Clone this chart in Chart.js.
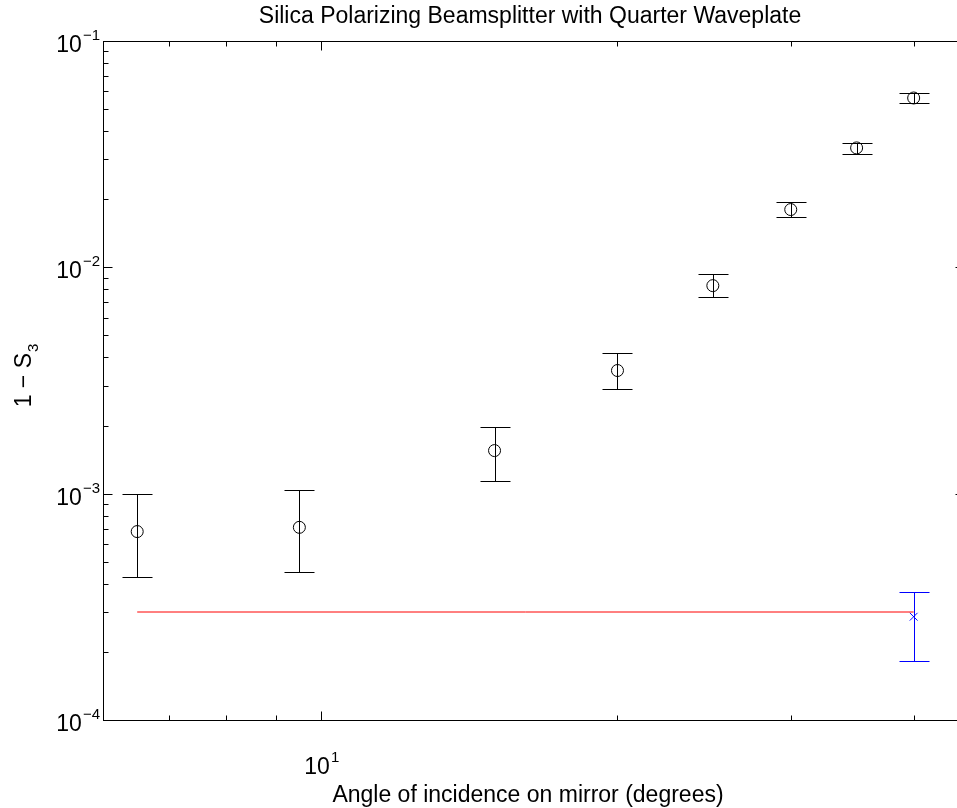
<!DOCTYPE html>
<html>
<head>
<script src="https://cdn.jsdelivr.net/npm/chart.js@4.4.0/dist/chart.umd.min.js"></script>
<style>
  html, body { margin: 0; padding: 0; overflow: hidden; background: #fff; }
  #wrap { width: 957px; height: 808px; overflow: hidden; position: relative; }
</style>
</head>
<body>
<div id="wrap"><canvas id="myChart" width="971" height="808"></canvas></div>
<script>
// measured points (black circles)
var angles = [6.5, 9.5, 15, 20, 25, 30, 35, 40];
var oneMinusS3 = [6.8e-4, 7.1e-4, 1.55e-3, 3.5e-3, 8.3e-3, 1.8e-2, 3.37e-2, 5.6e-2];
var errLow = [4.3e-4, 4.5e-4, 1.14e-3, 2.91e-3, 7.4e-3, 1.67e-2, 3.17e-2, 5.32e-2];
var errHigh = [1.0e-3, 1.04e-3, 1.98e-3, 4.2e-3, 9.35e-3, 1.95e-2, 3.54e-2, 5.89e-2];

// blue reference point
var refAngle = [40];
var refValue = [2.86e-4];
var refLow = [1.83e-4];
var refHigh = [3.69e-4];

// red level line
var lineAngles = [6.5, 40];
var lineValues = [3.0e-4, 3.0e-4];

// axis ticks
var xMajor = [10];
var xMinor = [7, 8, 9, 20, 30, 40];
var yMajor = [1e-4, 1e-3, 1e-2, 1e-1];
var yMinor = [];
for (var d = -4; d < -1; d++) {
    for (var m = 2; m <= 9; m++) yMinor.push(m * Math.pow(10, d));
}

function toPoints(xs, ys) {
    return xs.map(function (x, i) { return { x: x, y: ys[i] }; });
}

var FONT = '"Liberation Sans", Arial, sans-serif';

// "10" with a raised exponent
function drawPower(ctx, exp, x, y, align) {
    ctx.font = '23px ' + FONT;
    var wBase = ctx.measureText('10').width;
    ctx.font = '15px ' + FONT;
    var wExp = ctx.measureText(exp).width;
    var left = align === 'right' ? x - wBase - wExp - 1 : x - (wBase + wExp) / 2;
    ctx.textAlign = 'left';
    ctx.textBaseline = 'alphabetic';
    ctx.font = '23px ' + FONT;
    ctx.fillText('10', left, y);
    ctx.font = '15px ' + FONT;
    ctx.fillText(exp, left + wBase + 1, y - 12);
}

var errorBars = {
    id: 'errorBars',
    beforeDatasetsDraw: function (chart) {
        var ctx = chart.ctx, xs = chart.scales.x, ys = chart.scales.y;
        function bars(xv, lo, hi, color) {
            ctx.save();
            ctx.strokeStyle = color;
            ctx.lineWidth = 1;
            for (var i = 0; i < xv.length; i++) {
                var px = Math.round(xs.getPixelForValue(xv[i])) + 0.5;
                var p1 = Math.round(ys.getPixelForValue(lo[i])) + 0.5;
                var p2 = Math.round(ys.getPixelForValue(hi[i])) + 0.5;
                ctx.beginPath();
                ctx.moveTo(px, p1); ctx.lineTo(px, p2);
                ctx.moveTo(px - 15, p1); ctx.lineTo(px + 15, p1);
                ctx.moveTo(px - 15, p2); ctx.lineTo(px + 15, p2);
                ctx.stroke();
            }
            ctx.restore();
        }
        bars(angles, errLow, errHigh, '#000');
        bars(refAngle, refLow, refHigh, '#0000ff');
    }
};

var axesBox = {
    id: 'axesBox',
    afterDraw: function (chart) {
        var ctx = chart.ctx, xs = chart.scales.x, ys = chart.scales.y;
        var a = chart.chartArea;
        var L = Math.round(a.left) + 0.5, R = Math.round(a.right) + 0.5;
        var T = Math.round(a.top) + 0.5, B = Math.round(a.bottom) + 0.5;
        ctx.save();
        ctx.strokeStyle = '#000';
        ctx.lineWidth = 1;
        ctx.strokeRect(L, T, R - L, B - T);

        ctx.beginPath();
        function xTick(v, len) {
            var px = Math.round(xs.getPixelForValue(v)) + 0.5;
            ctx.moveTo(px, B); ctx.lineTo(px, B - len);
            ctx.moveTo(px, T); ctx.lineTo(px, T + len);
        }
        function yTick(v, len) {
            var py = Math.round(ys.getPixelForValue(v)) + 0.5;
            ctx.moveTo(L, py); ctx.lineTo(L + len, py);
            ctx.moveTo(R, py); ctx.lineTo(R - len, py);
        }
        xMajor.forEach(function (v) { xTick(v, 9); });
        xMinor.forEach(function (v) { xTick(v, 5); });
        yMajor.forEach(function (v) { yTick(v, 9); });
        yMinor.forEach(function (v) { yTick(v, 5); });
        ctx.stroke();

        ctx.fillStyle = '#000';
        xMajor.forEach(function (v) {
            drawPower(ctx, String(Math.round(Math.log10(v))), xs.getPixelForValue(v), 774, 'center');
        });
        yMajor.forEach(function (v) {
            var e = Math.round(Math.log10(v));
            drawPower(ctx, '\u2212' + Math.abs(e), 100, ys.getPixelForValue(v) + 11, 'right');
        });

        ctx.textAlign = 'center';
        ctx.textBaseline = 'alphabetic';
        ctx.font = '23px ' + FONT;
        ctx.fillText('Silica Polarizing Beamsplitter with Quarter Waveplate', 530, 23);
        ctx.fillText('Angle of incidence on mirror (degrees)', 528, 802);

        ctx.translate(31, 376);
        ctx.rotate(-Math.PI / 2);
        var main = '1 \u2212 S';
        var wMain = ctx.measureText(main).width;
        ctx.font = '15px ' + FONT;
        var wSub = ctx.measureText('3').width;
        ctx.textAlign = 'left';
        ctx.font = '23px ' + FONT;
        ctx.fillText(main, -(wMain + wSub) / 2, 0);
        ctx.font = '15px ' + FONT;
        ctx.fillText('3', -(wMain + wSub) / 2 + wMain + 1, 7);
        ctx.restore();
    }
};

new Chart('myChart', {
    type: 'scatter',
    data: {
        datasets: [
            {
                label: 'level',
                data: toPoints(lineAngles, lineValues),
                showLine: true,
                borderColor: '#ff0000',
                borderWidth: 1,
                pointRadius: 0
            },
            {
                label: 'measured',
                data: toPoints(angles, oneMinusS3),
                pointStyle: 'circle',
                pointRadius: 6,
                borderColor: '#000',
                backgroundColor: 'rgba(0,0,0,0)',
                borderWidth: 1
            },
            {
                label: 'reference',
                data: toPoints(refAngle, refValue),
                pointStyle: 'crossRot',
                pointRadius: 5.5,
                borderColor: '#0000ff',
                borderWidth: 1
            }
        ]
    },
    options: {
        responsive: false,
        animation: false,
        layout: { padding: { top: 41, right: 0, left: 0, bottom: 0 } },
        plugins: { legend: { display: false }, tooltip: { enabled: false } },
        scales: {
            x: {
                type: 'logarithmic',
                min: 6,
                max: 45,
                grid: { display: false },
                border: { display: false },
                ticks: { display: false },
                afterFit: function (s) { s.height = 88; }
            },
            y: {
                type: 'logarithmic',
                min: 1e-4,
                max: 1e-1,
                grid: { display: false },
                border: { display: false },
                ticks: { display: false },
                afterFit: function (s) { s.width = 103; }
            }
        }
    },
    plugins: [errorBars, axesBox]
});
</script>
</body>
</html>
